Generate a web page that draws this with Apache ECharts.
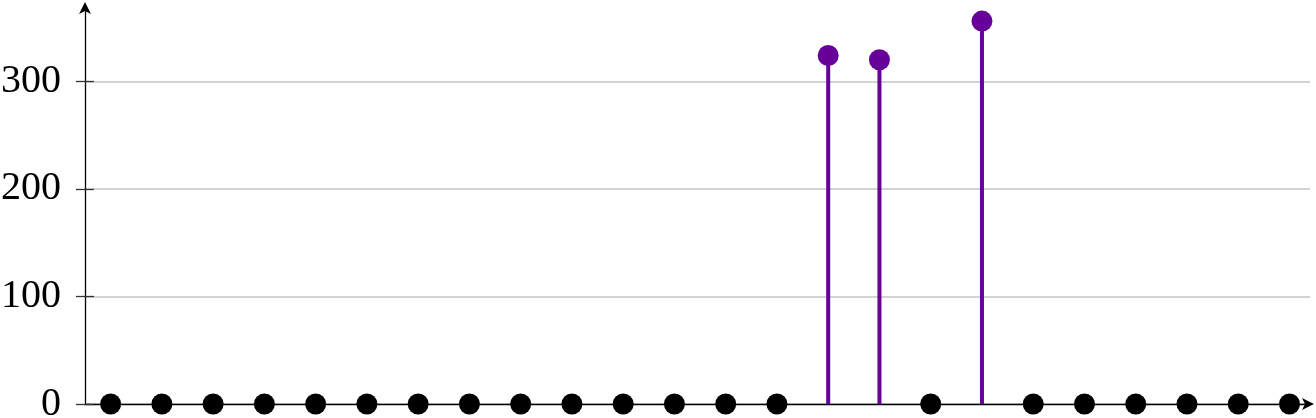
<!DOCTYPE html>
<html>
<head>
<meta charset="utf-8">
<script src="https://cdn.jsdelivr.net/npm/echarts@6/dist/echarts.min.js"></script>
<style>html,body{margin:0;padding:0;background:#fff;}#c{width:1316px;height:418px;}</style>
</head>
<body>
<div id="c"></div>
<script>
const indices = [0,1,2,3,4,5,6,7,8,9,10,11,12,13,14,15,16,17,18,19,20,21,22,23];
const values  = [0,0,0,0,0,0,0,0,0,0,0,0,0,0,324,320,0,356,0,0,0,0,0,0];
const yTicks  = [0,100,200,300];

const purple = '#660099';
const stemData = indices.map((x,i)=>[x, values[i]]);
const dotData = indices.map((x,i)=>({value:[x, values[i]], itemStyle:{color: values[i] > 0 ? purple : '#000', opacity:1}}));

const chart = echarts.init(document.getElementById('c'), null, {renderer:'canvas'});
chart.setOption({
  animation:false,
  grid:{left:85, right:6, top:6, bottom:14, containLabel:false, outerBoundsMode:'none'},
  xAxis:{
    type:'value', min:-0.5, max:23.4,
    axisLine:{show:true, onZero:false, lineStyle:{color:'#000', width:1.3}, symbol:['none','arrow'], symbolSize:[9,12], symbolOffset:[0,4]},
    axisTick:{show:false}, axisLabel:{show:false}, splitLine:{show:false}
  },
  yAxis:[{
    type:'value', min:0, max:370, interval:100,
    axisLine:{show:true, onZero:false, lineStyle:{color:'#000', width:1.3}, symbol:['none','arrow'], symbolSize:[9,12], symbolOffset:[0,4]},
    axisTick:{show:true, inside:false, length:9, customValues:yTicks, lineStyle:{color:'#333', width:1.3}},
    axisLabel:{show:true, margin:24, fontFamily:'Liberation Serif', fontSize:40, color:'#000', customValues:yTicks},
    splitLine:{show:true, lineStyle:{color:'#c4c4c4', width:1.5}}
  },{
    type:'value', min:0, max:370, interval:100, position:'left', offset:0,
    axisLine:{show:false, onZero:false},
    axisTick:{show:true, inside:true, length:9, customValues:yTicks, lineStyle:{color:'#333', width:1.3}},
    axisLabel:{show:false}, splitLine:{show:false}
  }],
  series:[{
    type:'bar', data:stemData, barWidth:4, itemStyle:{color:purple}, silent:true, z:2
  },{
    type:'scatter', data:dotData, symbol:'circle', symbolSize:21, z:5, silent:true
  }]
});
</script>
</body>
</html>
